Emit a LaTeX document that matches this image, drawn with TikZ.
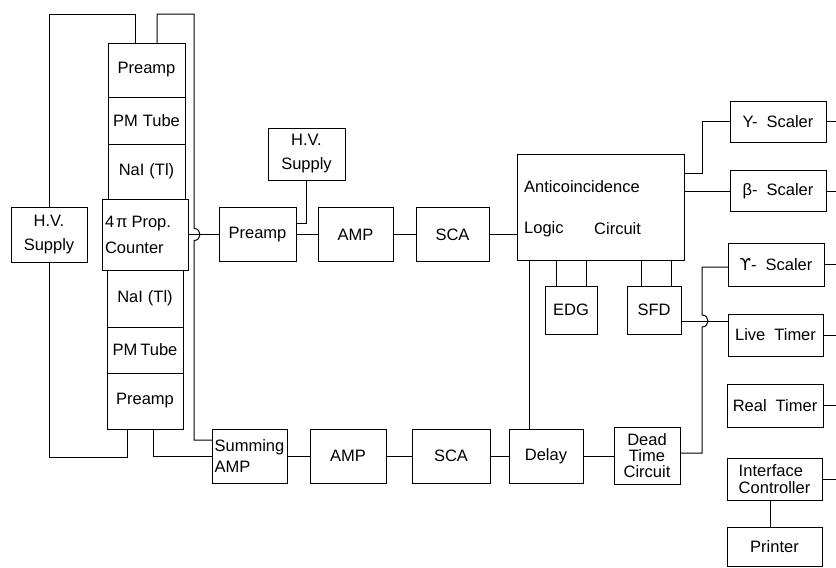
\documentclass[tikz,border=0pt]{standalone}
\usepackage{fontspec}
\newfontfamily\lab{Liberation Sans}
\newfontfamily\dejavu{DejaVu Sans}
\begin{document}
\begin{tikzpicture}[x=1pt,y=-1pt,
  box/.style={draw, line width=1pt, inner sep=0pt, outer sep=0pt,
    font=\lab\fontsize{16.5}{19}\selectfont, align=center},
  sz/.style 2 args={minimum width=#1pt, minimum height=#2pt},
  lbl/.style={inner sep=0pt, font=\lab\fontsize{16.5}{19}\selectfont},
  conn/.style={line width=1pt}]
\useasboundingbox (0,0) rectangle (836,568);
\coordinate (rim) at (840,0);
% left H.V. supply
\node[box, sz={76}{55}] (hvL) at (49,234.5) {H.V.\\[5pt]Supply};
% detector stack
\node[box, sz={77}{54}] (preT) at (146.5,70) {Preamp};
\node[box, sz={77}{47}] (pmT) at (146.5,120.5) {PM\hspace{5pt}Tube};
\node[box, sz={77}{55}] (naT) at (146.5,171.5) {NaI\hspace{5pt}(Tl)};
\node[box, sz={86}{71}, text width=80pt, align=left] (prop) at (145,234.5) {4\hspace{2pt}π\hspace{4pt}Prop.\\[7pt]Counter};
\node[box, sz={76}{57}] (naB) at (145,298.5) {NaI\hspace{5pt}(Tl)};
\node[box, sz={76}{46}] (pmB) at (145,350) {PM\hspace{3pt}Tube};
\node[box, sz={76}{56}] (preB) at (145,401) {Preamp};
% upper chain
\node[box, sz={77}{54}] (preM) at (257.5,234.5) {Preamp};
\node[box, sz={77}{52}] (hvM) at (306.5,154) {H.V.\\[5pt]Supply};
\node[box, sz={75}{54}] (ampT) at (355.5,234.5) {AMP};
\node[box, sz={73}{54}] (scaT) at (452.5,234.5) {SCA};
\node[box, sz={167}{106}] (anti) at (600.5,207) {};
\node[lbl, anchor=west] (antiA) at (524,187) {Anticoincidence};
\node[lbl, anchor=west] (antiB) at (524,229) {Logic};
\node[lbl, anchor=west] (antiC) at (594,229) {Circuit};
\node[box, sz={52}{48}] (edg) at (571,310) {EDG};
\node[box, sz={54}{48}] (sfd) at (654,310) {SFD};
% right column
\node[box, sz={96}{41}] (gs1) at (778,121.5) {Y-\hspace{9pt}Scaler};
\node[box, sz={96}{41}] (bs) at (778,191) {β-\hspace{9pt}Scaler};
\node[box, sz={96}{43}] (gs2) at (776,264.5) {{\dejavu ϒ}-\hspace{9pt}Scaler};
\node[box, sz={95}{42}] (live) at (775.5,335) {Live\hspace{9pt}Timer};
\node[box, sz={96}{43}] (real) at (775,405.5) {Real\hspace{9pt}Timer};
\node[box, sz={95}{42}, align=left, font=\lab\fontsize{16.5}{17}\selectfont] (intf) at (774.5,479) {Interface\\Controller};
\node[box, sz={95}{39}] (printer) at (774.5,547) {Printer};
% lower chain
\node[box, sz={75}{54}, align=left, font=\lab\fontsize{16.5}{21}\selectfont] (sum) at (249.5,456) {Summing\\AMP};
\node[box, sz={76}{54}] (ampB) at (348,456) {AMP};
\node[box, sz={78}{54}] (scaB) at (451,456) {SCA};
\node[box, sz={74}{54}] (delay) at (546,456) {Delay};
\node[box, sz={66}{57}, font=\lab\fontsize{16.5}{16}\selectfont] (dead) at (647,456) {Dead\\Time\\Circuit};
% connectors
\draw[conn] (hvL.north) |- (135,14) -- ([xshift=-11.5pt]preT.north);
\draw[conn] ([xshift=10.5pt]preT.north) |- (194,14) -- (194,228.5)
   .. controls (202,228.5) and (202,240.5) .. (194,240.5) |- ([yshift=16pt]sum.west);
\draw[conn] (hvL.south) |- (127,457) -- ([xshift=-18pt]preB.south);
\draw[conn] ([xshift=8pt]preB.south) |- (sum.west);
\draw[conn] (prop.east) -- (preM.west);
\draw[conn] (hvM.south) |- ([yshift=11pt]preM.east);
\draw[conn] (preM.east) -- (ampT.west);
\draw[conn] (ampT.east) -- (scaT.west);
\draw[conn] (scaT.east) -- (scaT.east -| anti.west);
\draw[conn] ([xshift=-44.5pt]anti.south) -- ([xshift=-15pt]edg.north);
\draw[conn] ([xshift=-14.5pt]anti.south) -- ([xshift=15pt]edg.north);
\draw[conn] ([xshift=40.5pt]anti.south) -- ([xshift=-13pt]sfd.north);
\draw[conn] ([xshift=70.5pt]anti.south) -- ([xshift=17pt]sfd.north);
\draw[conn] ([xshift=-71.5pt]anti.south) -- ([xshift=-17pt]delay.north);
\draw[conn] ([yshift=34pt]anti.east) -- (702,173) |- (gs1.west);
\draw[conn] ([yshift=16pt]anti.east) -- (bs.west);
\draw[conn] ([yshift=-11pt]sfd.east) -- ([yshift=14pt]live.west);
\draw[conn] ([yshift=3pt]dead.east) -- (702,453) -- (702,327)
   .. controls (710,327) and (710,315) .. (702,315) |- ([yshift=-2.5pt]gs2.west);
\draw[conn] ([xshift=-4.5pt]intf.south) -- ([xshift=-4.5pt]printer.north);
\draw[conn] (sum.east) -- (ampB.west);
\draw[conn] (ampB.east) -- (scaB.west);
\draw[conn] (scaB.east) -- (delay.west);
\draw[conn] (delay.east) -- (dead.west);
\foreach \n in {gs1,bs,gs2,live,real,intf}
  \draw[conn] (\n.east) -- (\n.east -| rim);
\end{tikzpicture}
\end{document}
